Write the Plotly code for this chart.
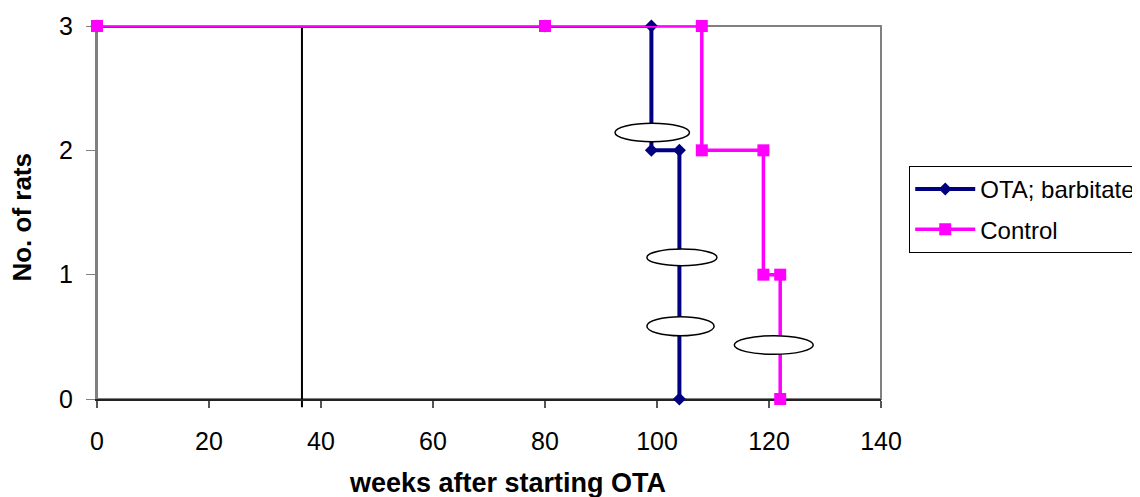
import plotly.graph_objects as go

# ---- data ----
weeks_ota = [0, 80, 99, 99, 104, 104]
rats_ota = [3, 3, 3, 2, 2, 0]
weeks_control = [0, 80, 108, 108, 119, 119, 122, 122]
rats_control = [3, 3, 3, 2, 2, 1, 1, 0]
series_names = ["OTA; barbitate", "Control"]
x_ticks = [0, 20, 40, 60, 80, 100, 120, 140]
y_ticks = [0, 1, 2, 3]
treatment_end_week = 36.6

FONT = "Liberation Sans, Arial, sans-serif"
# page body has an 8px margin, so the figure is 8px smaller on each axis
W, H = 1132, 489
ML, MR, MT, MB = 89, 259, 18, 98

fig = go.Figure()
fig.add_trace(go.Scatter(
    x=weeks_ota, y=rats_ota, mode="lines+markers", name=series_names[0],
    line=dict(color="#000080", width=4),
    marker=dict(symbol="diamond", size=10, color="#000080"),
    legendgroup="a", cliponaxis=False,
))
fig.add_trace(go.Scatter(
    x=weeks_control, y=rats_control, mode="lines+markers", name=series_names[1],
    line=dict(color="#FF00FF", width=3.5),
    marker=dict(symbol="square", size=12, color="#FF00FF"),
    legendgroup="b", cliponaxis=False,
))

shapes = []
# plot area border (top/right grey)
shapes.append(dict(type="rect", xref="paper", yref="paper", x0=0, x1=1, y0=0, y1=1,
                   line=dict(color="#808080", width=2), layer="below"))
# vertical black line
shapes.append(dict(type="line", xref="x", yref="paper", x0=treatment_end_week, x1=treatment_end_week,
                   y0=-0.022, y1=1, line=dict(color="black", width=2), layer="below"))
# ellipses (annotation marks)
for (x0, x1, y0, y1) in [(92.5, 105.8, 2.069, 2.217),
                         (98.2, 110.7, 1.072, 1.206),
                         (98.2, 110.2, 0.509, 0.662),
                         (113.8, 127.9, 0.359, 0.509)]:
    shapes.append(dict(type="circle", xref="x", yref="y", x0=x0, x1=x1, y0=y0, y1=y1,
                       fillcolor="white", line=dict(color="black", width=1.5), layer="above"))

fig.update_layout(
    width=W, height=H,
    margin=dict(l=ML, r=MR, t=MT, b=MB, autoexpand=False),
    paper_bgcolor="white", plot_bgcolor="white",
    font=dict(family=FONT, color="black", size=24),
    shapes=shapes,
    showlegend=True,
    legend=dict(
        x=1.036, y=0.625, xanchor="left", yanchor="top",
        bgcolor="white", bordercolor="black", borderwidth=1,
        font=dict(family=FONT, size=24, color="black"),
        tracegroupgap=6, itemwidth=60,
    ),
    annotations=[
        dict(text="<b>weeks after starting OTA</b>", xref="paper", yref="paper",
             x=0.523, y=-0.225, xanchor="center", yanchor="middle", showarrow=False,
             font=dict(family=FONT, size=27, color="black")),
        dict(text="<b>No. of rats</b>", xref="paper", yref="paper", textangle=-90,
             x=-0.0957, y=0.489, xanchor="center", yanchor="middle", showarrow=False,
             font=dict(family=FONT, size=26, color="black")),
    ],
)
fig.update_xaxes(
    range=[0, 140], tickvals=x_ticks, ticktext=[str(v) for v in x_ticks],
    showgrid=False, zeroline=False, showline=True, linecolor="#222222", linewidth=1.5,
    ticks="outside", ticklen=7, tickwidth=1.5, tickcolor="#555555", layer="below traces",
    tickfont=dict(family=FONT, size=25, color="black"), ticklabelstandoff=12,
)
fig.update_yaxes(
    range=[0, 3], tickvals=y_ticks, ticktext=[str(v) for v in y_ticks],
    showgrid=False, zeroline=False, showline=True, linecolor="#808080", linewidth=2,
    ticks="outside", ticklen=9, tickwidth=1, tickcolor="#808080", layer="below traces",
    tickfont=dict(family=FONT, size=25, color="black"), ticklabelstandoff=8,
)

fig.write_html("out.html")
